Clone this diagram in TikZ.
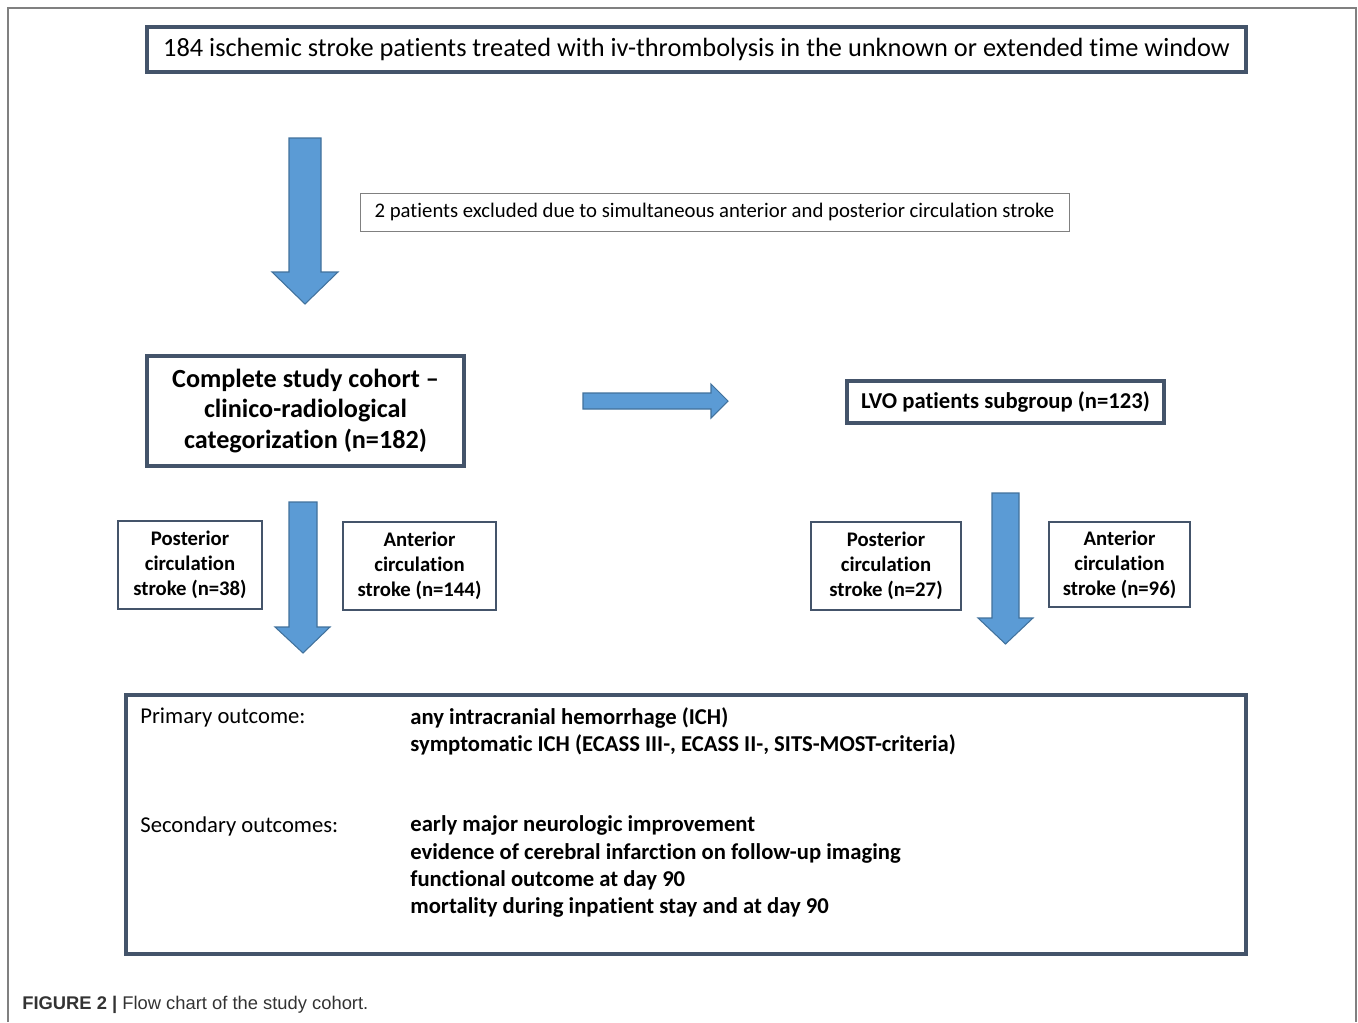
\documentclass[tikz,border=0pt]{standalone}
\usepackage{fontspec}
\setmainfont{Carlito}[Ligatures=NoCommon]
\newfontfamily\capfont{Liberation Sans}
\definecolor{boxline}{HTML}{44546A}
\definecolor{arrowfill}{HTML}{5B9BD5}
\definecolor{arrowline}{HTML}{41719C}

\begin{document}
\begin{tikzpicture}[x=0.02cm,y=-0.02cm,
    bigbox/.style={draw=boxline,line width=2.2pt,inner sep=0pt},
    smallbox/.style={draw=boxline,line width=0.8pt,inner sep=0pt,align=center,
      font=\fontsize{11.8}{14.2}\selectfont\bfseries},
    blockarrow/.style={fill=arrowfill,draw=arrowline,line width=0.6pt,line join=miter}]
    \useasboundingbox (0,0) rectangle (1358,1022);
    \draw[gray,line width=0.6pt] (8,1022) -- (8,8) -- (1356,8) -- (1356,1022);

    \node[bigbox,minimum width=1099*0.02cm,minimum height=45*0.02cm,
      font=\fontsize{15}{17}\selectfont] (all) at (696.5,49.5)
      {184 ischemic stroke patients treated with iv-thrombolysis in the unknown or extended time window};
    \node[draw=gray,line width=0.5pt,minimum width=709*0.02cm,minimum height=38*0.02cm,
      inner sep=0pt,font=\fontsize{11.8}{14}\selectfont] (excl) at (714.5,212)
      {2 patients excluded due to simultaneous anterior and posterior circulation stroke};

    \node[bigbox,minimum width=317*0.02cm,minimum height=110*0.02cm,align=center,
      font=\fontsize{14.9}{17.6}\selectfont\bfseries] (cohort) at (305.5,411)
      {Complete study cohort --\\clinico-radiological\\categorization (n=182)};
    \node[bigbox,minimum width=317*0.02cm,minimum height=42*0.02cm,
      font=\fontsize{12.9}{15}\selectfont\bfseries] (lvo) at (1005.5,402)
      {LVO patients subgroup (n=123)};

    \node[smallbox,minimum width=144*0.02cm,minimum height=88*0.02cm] (postall) at (190,565)
      {Posterior\\circulation\\stroke (n=38)};
    \node[smallbox,minimum width=153*0.02cm,minimum height=88*0.02cm] (antall) at (419.5,566)
      {Anterior\\circulation\\stroke (n=144)};
    \node[smallbox,minimum width=150*0.02cm,minimum height=88*0.02cm] (postlvo) at (886,566)
      {Posterior\\circulation\\stroke (n=27)};
    \node[smallbox,minimum width=141*0.02cm,minimum height=85*0.02cm] (antlvo) at (1119.5,564.5)
      {Anterior\\circulation\\stroke (n=96)};

    \draw[blockarrow] (289,138) -- (321,138) -- (321,272) -- (338,272) -- (305,304)
      -- (272,272) -- (289,272) -- cycle;
    \draw[blockarrow] (583,393) -- (711,393) -- (711,384) -- (728,401) -- (711,418)
      -- (711,409) -- (583,409) -- cycle;
    \draw[blockarrow] (289,502) -- (317,502) -- (317,627) -- (330,627) -- (303,653)
      -- (275,627) -- (289,627) -- cycle;
    \draw[blockarrow] (992,493) -- (1019,493) -- (1019,618) -- (1033,618) -- (1005.5,644)
      -- (978,618) -- (992,618) -- cycle;

    \node[bigbox,minimum width=1120*0.02cm,minimum height=259*0.02cm] (outcome) at (686,824.5) {};
    \node[anchor=west,inner sep=0pt,font=\fontsize{12.9}{15.4}\selectfont] (prim) at (140,718)
      {Primary outcome:};
    \node[anchor=west,inner sep=0pt,align=left,font=\fontsize{12.9}{15.4}\selectfont\bfseries]
      (primlist) at (410,731.5)
      {any intracranial hemorrhage (ICH)\\symptomatic ICH (ECASS III-, ECASS II-, SITS-MOST-criteria)};
    \node[anchor=west,inner sep=0pt,font=\fontsize{12.9}{15.4}\selectfont] (sec) at (140,826)
      {Secondary outcomes:};
    \node[anchor=west,inner sep=0pt,align=left,font=\fontsize{12.9}{15.4}\selectfont\bfseries]
      (seclist) at (410,866.5)
      {early major neurologic improvement\\evidence of cerebral infarction on follow-up imaging\\
       functional outcome at day 90\\mortality during inpatient stay and at day 90};

    \node[anchor=west,inner sep=0pt,text=black!80,font=\capfont\fontsize{10.45}{12}\selectfont]
      (caption) at (22,1005) {\textbf{FIGURE 2 |} Flow chart of the study cohort.};
  \end{tikzpicture}
\end{document}
